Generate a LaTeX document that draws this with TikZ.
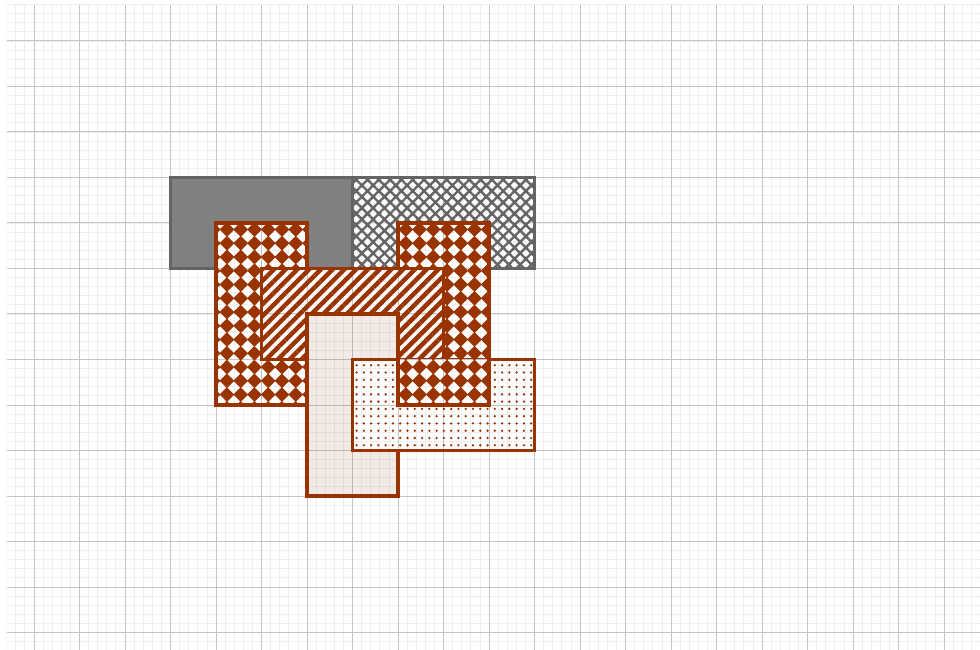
\documentclass[tikz,border=0pt]{standalone}
\usetikzlibrary{patterns,patterns.meta}
\definecolor{brn}{RGB}{153,51,0}
\definecolor{gfill}{RGB}{128,128,128}
\definecolor{gline}{RGB}{100,100,100}
\definecolor{minorc}{RGB}{238,238,238}
\definecolor{majorc}{RGB}{196,196,196}
\pgfdeclarepattern{
  name=diamondcheck, type=uncolored,
  bottom left={\pgfpoint{-1pt}{-1pt}}, top right={\pgfpoint{9.6pt}{9.6pt}},
  tile size={\pgfpoint{8.6pt}{8.6pt}},
  code={\pgfpathmoveto{\pgfpoint{4.3pt}{-0.3pt}}\pgfpathlineto{\pgfpoint{8.9pt}{4.3pt}}\pgfpathlineto{\pgfpoint{4.3pt}{8.9pt}}\pgfpathlineto{\pgfpoint{-0.3pt}{4.3pt}}\pgfpathclose\pgfusepath{fill}}
}
\tikzset{
  minorgrid/.style={draw=minorc, line width=0.5pt, step=0.2},
  majorgrid/.style={draw=majorc, line width=0.6pt, step=1},
  brownborder/.style={draw=brn, line width=2.3pt},
  grayborder/.style={draw=gline, line width=1.9pt},
  checkfill/.style={pattern=diamondcheck, pattern color=brn},
  stripefill/.style={pattern={Lines[angle=45, distance=5.2pt, line width=2.8pt]}, pattern color=brn},
  hatchfill/.style={pattern={Hatch[angle=45, distance=5pt, line width=1.5pt]}, pattern color=gline},
  dotfill/.style={pattern={Dots[distance=4.55pt, radius=0.8pt]}, pattern color=brn},
  tintfill/.style={fill=brn, fill opacity=0.1},
}
\newcommand\gridlines{%
  \path[minorgrid] (-0.6,-0.4) grid (20.8,13.8);
  \path[majorgrid] (-0.6,-0.4) grid (20.8,13.8);}
\newcommand\patbox[3]{%
  \fill[white] #1;
  \begin{scope}\clip #1; \gridlines \end{scope}
  \fill[#2] #1;
  \path[#3] #1;}
\begin{document}
\begin{tikzpicture}
\useasboundingbox (-0.747,-0.363) rectangle (20.79,13.90);
\begin{scope}
\clip (-0.6,-0.363) rectangle (20.79,13.8);
\gridlines
\end{scope}
% gray solid
\path[fill=gfill, grayborder] (3,8) rectangle (7,10);
% gray crosshatch
\patbox{(7,8) rectangle (11,10)}{hatchfill}{grayborder}
% left checker
\patbox{(4,5) rectangle (6,9)}{checkfill}{brownborder}
% right checker
\patbox{(8,5) rectangle (10,9)}{checkfill}{brownborder}
% stripes
\patbox{(5,6) rectangle (9,8)}{stripefill}{brownborder}
% light tint
\patbox{(6,3) rectangle (8,7)}{tintfill}{brownborder}
% dots
\patbox{(7,4) rectangle (11,6)}{dotfill}{brownborder}
% right checker, lower part on top of dots
\fill[white] (8,5) rectangle (10,6);
\begin{scope}\clip (8,5) rectangle (10,6); \gridlines \end{scope}
\fill[checkfill] (8,5) rectangle (10,6);
\path[brownborder] (8,6) -- (8,5) -- (10,5) -- (10,6);
\end{tikzpicture}
\end{document}
